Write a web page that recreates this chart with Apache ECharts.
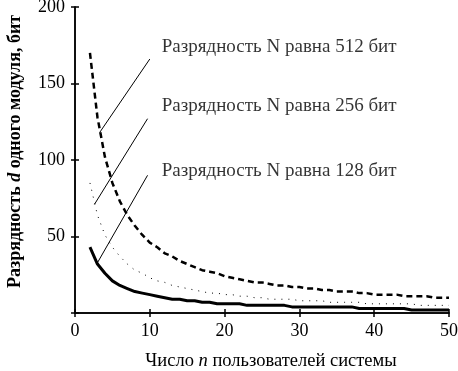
<!DOCTYPE html>
<html>
<head>
<meta charset="utf-8">
<script src="https://cdn.jsdelivr.net/npm/echarts@6/dist/echarts.min.js"></script>
<style>
  html, body { margin: 0; padding: 0; background: #fff; }
  #chart { width: 458px; height: 371px; }
</style>
</head>
<body>
<div id="chart"></div>
<script>
  // число пользователей n
  const users = [2, 3, 4, 5, 6, 7, 8, 9, 10, 11, 12, 13, 14, 15, 16, 17, 18, 19, 20, 21, 22, 23, 24, 25, 26,
    27, 28, 29, 30, 31, 32, 33, 34, 35, 36, 37, 38, 39, 40, 41, 42, 43, 44, 45, 46, 47, 48, 49, 50]
  // разрядность d
  const d512 = [170, 128, 102, 85, 73, 64, 57, 51, 46, 43, 39, 37, 34, 32, 30, 28, 27, 26, 24, 23, 22, 21, 20, 20, 19,
    18, 18, 17, 17, 16, 16, 15, 15, 14, 14, 14, 13, 13, 12, 12, 12, 12, 11, 11, 11, 11, 10, 10, 10]
  const d256 = [85, 64, 51, 43, 37, 32, 28, 26, 23, 21, 20, 18, 17, 16, 15, 14, 13, 13, 12, 12, 11, 11, 10, 10, 9,
    9, 9, 9, 8, 8, 8, 8, 7, 7, 7, 7, 7, 6, 6, 6, 6, 6, 6, 6, 5, 5, 5, 5, 5]
  const d128 = [43, 32, 26, 21, 18, 16, 14, 13, 12, 11, 10, 9, 9, 8, 8, 7, 7, 6, 6, 6, 6, 5, 5, 5, 5,
    5, 5, 4, 4, 4, 4, 4, 4, 4, 4, 4, 3, 3, 3, 3, 3, 3, 3, 2, 2, 2, 2, 2, 2]
  const xTicks = [0, 10, 20, 30, 40, 50]
  const yTicks = [0, 50, 100, 150, 200]

  // подписи и выноски
  const labels = ['Разрядность N равна 512 бит', 'Разрядность N равна 256 бит', 'Разрядность N равна 128 бит']
  const labelPos = [[11.6, 174], [11.6, 135], [11.6, 93]]
  const pointers = [
    [[3.3, 118], [10.0, 166]],
    [[2.6, 71], [9.7, 127]],
    [[2.9, 32], [9.7, 90]],
  ]

  const font = 'Liberation Serif'
  const chart = echarts.init(document.getElementById('chart'))

  const frameAxis = {
    axisLine: { show: true, lineStyle: { color: '#000', width: 1.5 } },
    axisTick: { show: true, inside: true, length: 4, lineStyle: { color: '#000', width: 1.5 } },
    splitLine: { show: false },
  }

  const series = [
    {
      type: 'line', data: users.map((n, i) => [n, d512[i]]), symbol: 'none',
      lineStyle: { color: '#000', width: 2.5, type: [6, 4] },
    },
    {
      type: 'line', data: users.map((n, i) => [n, d256[i]]), symbol: 'none',
      lineStyle: { color: '#000', width: 1, type: [1, 6] },
    },
    {
      type: 'line', data: users.map((n, i) => [n, d128[i]]), symbol: 'none',
      lineStyle: { color: '#000', width: 3 },
    },
  ]
  pointers.forEach((p) => {
    series.push({
      type: 'line', data: p, symbol: 'none', silent: true,
      lineStyle: { color: '#000', width: 1 },
    })
  })
  series.push({
    type: 'scatter', symbolSize: 0, silent: true,
    data: labels.map((t, i) => ({ value: labelPos[i], name: t })),
    label: {
      show: true, position: 'right', distance: 0, formatter: '{b}',
      color: '#000', fontFamily: font, fontSize: 19,
    },
  })

  chart.setOption({
    animation: false,
    grid: { left: 75, top: 7, right: 9, bottom: 58, containLabel: false, outerBoundsMode: 'none' },
    xAxis: [
      Object.assign({
        type: 'value', min: 0, max: 50, interval: 10,
        name: 'Число {i|n} пользователей системы', nameLocation: 'middle', nameGap: 39,
        nameTextStyle: {
          color: '#000', fontFamily: font, fontSize: 18.5, padding: [0, 0, 0, 18],
          rich: { i: { fontFamily: font, fontSize: 18.5, fontStyle: 'italic', color: '#000' } },
        },
        axisLabel: {
          color: '#000', fontFamily: font, fontSize: 18, margin: 9,
          formatter: (v) => (xTicks.includes(v) ? String(v) : ''),
        },
      }, frameAxis),
      Object.assign({
        type: 'value', position: 'top', min: 0, max: 50, interval: 10, axisLabel: { show: false },
      }, frameAxis),
    ],
    yAxis: [
      Object.assign({
        type: 'value', min: 0, max: 200, interval: 50,
        name: 'Разрядность {i|d} одного модуля, бит', nameLocation: 'middle', nameGap: 51,
        nameTextStyle: {
          color: '#000', fontFamily: font, fontSize: 18, fontWeight: 'bold', padding: [0, 0, 0, 17],
          rich: { i: { fontFamily: font, fontSize: 18, fontStyle: 'italic', color: '#000' } },
        },
        axisLabel: {
          color: '#000', fontFamily: font, fontSize: 18, margin: 10,
          formatter: (v) => (v === 0 || !yTicks.includes(v) ? '' : String(v)),
        },
      }, frameAxis),
      Object.assign({
        type: 'value', position: 'right', min: 0, max: 200, interval: 50, axisLabel: { show: false },
      }, frameAxis),
    ],
    series: series,
  })
</script>
</body>
</html>
